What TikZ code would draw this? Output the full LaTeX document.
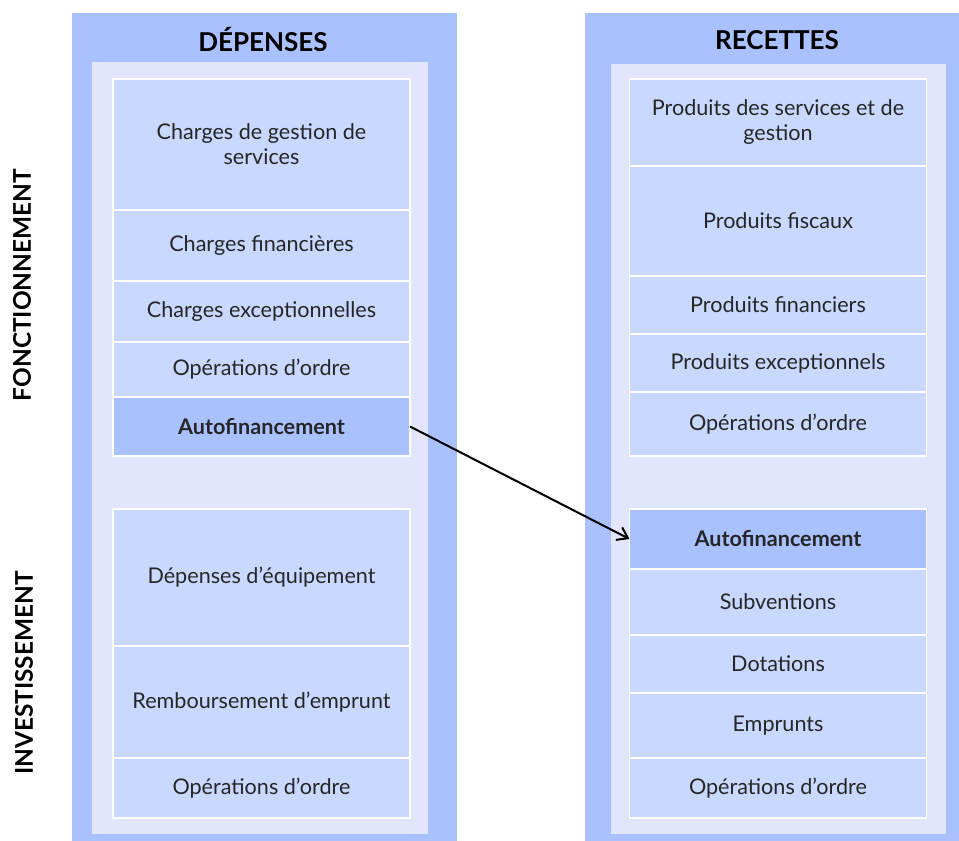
\documentclass[tikz,border=0pt]{standalone}
\usepackage{fontspec}
\setmainfont{Lato}
\usetikzlibrary{positioning,arrows.meta}
\definecolor{bleufonce}{HTML}{A9C1FE}
\definecolor{bleupale}{HTML}{E1E6FE}
\definecolor{bleucase}{HTML}{C9D8FE}
\newlength\px
\setlength\px{0.5pt}

\begin{document}
\begin{tikzpicture}[x=\px, y=-\px]
        \tikzstyle{every node}=[font=\fontsize{10.8}{12.5}\selectfont, text=black!85, inner sep=0pt, outer sep=0pt]
        \tikzstyle{poste}=[draw=white, line width=0.8pt, fill=bleucase, minimum width=297\px, align=center]
        \tikzstyle{autofin}=[poste, fill=bleufonce, font=\fontsize{10.8}{12.5}\selectfont\bfseries]
        \tikzstyle{titre}=[font=\fontsize{13}{15}\selectfont\bfseries, text=black]
        \useasboundingbox (0,0) rectangle (959,841);
        % colonnes
        \fill[bleufonce] (72,13) rectangle (457,841);
        \fill[bleupale] (92,62) rectangle (428,834);
        \fill[bleufonce] (585,13) rectangle (959,841);
        \fill[bleupale] (611,64) rectangle (946,834);
        % titres
        \node[titre] (depenses) at (263,40) {DÉPENSES};
        \node[titre] (recettes) at (777,40) {RECETTES};
        \node[titre, rotate=90, font=\fontsize{12.2}{14}\selectfont\bfseries] (fonct) at (22,285) {FONCTIONNEMENT};
        \node[titre, rotate=90, font=\fontsize{12.2}{14}\selectfont\bfseries] (invest) at (24,673) {INVESTISSEMENT};
        % depenses de fonctionnement
        \node[poste, minimum height=131\px, anchor=north] (chgest) at (261.5,79) {Charges de gestion de\\services};
        \node[poste, minimum height=71\px, below=0pt of chgest] (chfin) {Charges financières};
        \node[poste, minimum height=61\px, below=0pt of chfin] (chexc) {Charges exceptionnelles};
        \node[poste, minimum height=55\px, below=0pt of chexc] (opdf) {Opérations d’ordre};
        \node[autofin, minimum height=59\px, below=0pt of opdf] (autodep) {Autofinancement};
        % depenses d'investissement
        \node[poste, minimum height=137\px, anchor=north] (equip) at (261.5,509) {Dépenses d’équipement};
        \node[poste, minimum height=112\px, below=0pt of equip] (remb) {Remboursement d’emprunt};
        \node[poste, minimum height=60\px, below=0pt of remb] (opdi) {Opérations d’ordre};
        % recettes de fonctionnement
        \node[poste, minimum height=87\px, anchor=north] (prserv) at (778,79) {Produits des services et de\\gestion};
        \node[poste, minimum height=110\px, below=0pt of prserv] (prfisc) {Produits fiscaux};
        \node[poste, minimum height=58\px, below=0pt of prfisc] (prfin) {Produits financiers};
        \node[poste, minimum height=58\px, below=0pt of prfin] (prexc) {Produits exceptionnels};
        \node[poste, minimum height=64\px, below=0pt of prexc] (oprf) {Opérations d’ordre};
        % recettes d'investissement
        \node[autofin, minimum height=60\px, anchor=north] (autorec) at (778,509) {Autofinancement};
        \node[poste, minimum height=66\px, below=0pt of autorec] (subv) {Subventions};
        \node[poste, minimum height=58\px, below=0pt of subv] (dot) {Dotations};
        \node[poste, minimum height=65\px, below=0pt of dot] (empr) {Emprunts};
        \node[poste, minimum height=60\px, below=0pt of empr] (opri) {Opérations d’ordre};
        \draw[-{Straight Barb[length=5pt,width=7pt]}, line width=1pt, black] (autodep.east) -- (autorec.west);
\end{tikzpicture}
\end{document}
